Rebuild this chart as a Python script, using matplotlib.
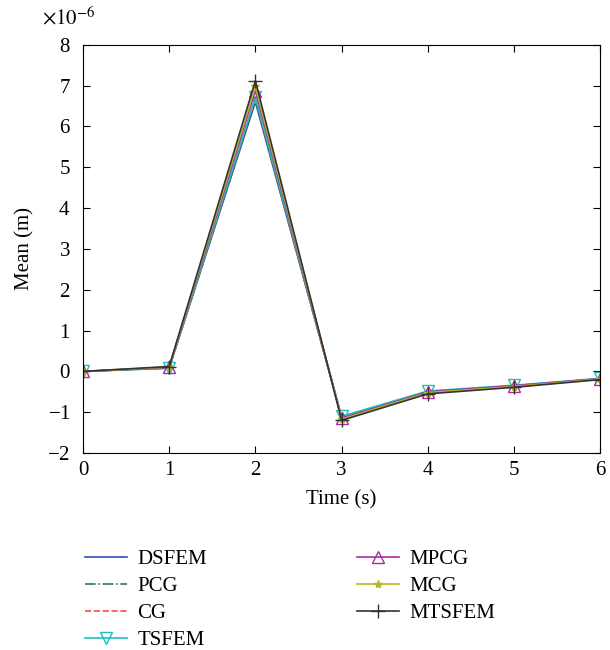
import matplotlib
matplotlib.use('Agg')
import matplotlib.pyplot as plt
import numpy as np

plt.rcParams['font.family'] = ['Liberation Serif', 'DejaVu Serif']
plt.rcParams['mathtext.fontset'] = 'stix'

# time steps (s)
t = [0, 1, 2, 3, 4, 5, 6]

# mean displacement, in units of 1e-6 m
dsfem = [0.0, 0.08, 6.60, -1.12, -0.50, -0.35, -0.18]
pcg = [0.0, 0.08, 6.65, -1.13, -0.51, -0.36, -0.18]
cg = [0.0, 0.09, 6.70, -1.14, -0.51, -0.36, -0.18]
tsfem = [0.0, 0.09, 6.72, -1.10, -0.48, -0.34, -0.17]
mpcg = [0.0, 0.10, 6.88, -1.15, -0.50, -0.35, -0.18]
mcg = [0.0, 0.11, 6.98, -1.17, -0.52, -0.37, -0.19]
mtsfem = [0.0, 0.12, 7.12, -1.20, -0.55, -0.39, -0.20]

scale = 1e-6
series = [
    ('DSFEM', dsfem, dict(color='#2a4fc0', ls='-')),
    ('PCG', pcg, dict(color='#2e7d50', ls='-.')),
    ('CG', cg, dict(color='#ff4a4a', ls='--')),
    ('TSFEM', tsfem, dict(color='#1ec0c0', ls='-', marker='v', mfc='none', ms=8)),
    ('MPCG', mpcg, dict(color='#a82ca8', ls='-', marker='^', mfc='none', ms=8)),
    ('MCG', mcg, dict(color='#b8b820', ls='-', marker='*', ms=6)),
    ('MTSFEM', mtsfem, dict(color='#333333', ls='-', marker='+', ms=10)),
]

fig = plt.figure(figsize=(6.1, 6.5), dpi=100)
ax = fig.add_axes([0.136, 0.303, 0.848, 0.628])

for name, vals, st in series:
    ax.plot(t, np.array(vals) * scale, label=name, lw=1.2, **st)

ax.set_xlim(0, 6)
ax.set_ylim(-2e-6, 8e-6)
ax.set_xticks(t)
ax.set_yticks(np.arange(-2, 9) * scale)
ax.ticklabel_format(axis='y', style='sci', scilimits=(0, 0), useMathText=True)
ax.yaxis.get_offset_text().set_visible(False)
ax.tick_params(direction='in', top=True, right=True, labelsize=15, length=5)
ax.tick_params(axis='x', pad=6)
ax.tick_params(axis='y', pad=9)
ax.set_xlabel('Time (s)', fontsize=15)
ax.set_ylabel('Mean (m)', fontsize=15)
ax.xaxis.set_label_coords(0.5, -0.09)
ax.yaxis.set_label_coords(-0.093, 0.5)

fig.text(42 / 610, 1 - 18 / 650, r'$\times10^{-6}$', fontsize=15, va='center', ha='left')

ax.legend(loc='upper left', bbox_to_anchor=(75 / 610, 1 - 539 / 650),
          bbox_transform=fig.transFigure, ncol=2, frameon=False, borderpad=0,
          fontsize=15, columnspacing=7.2, handlelength=2.0, handletextpad=0.5,
          labelspacing=0.36)

fig.savefig('out.png', dpi=100)
